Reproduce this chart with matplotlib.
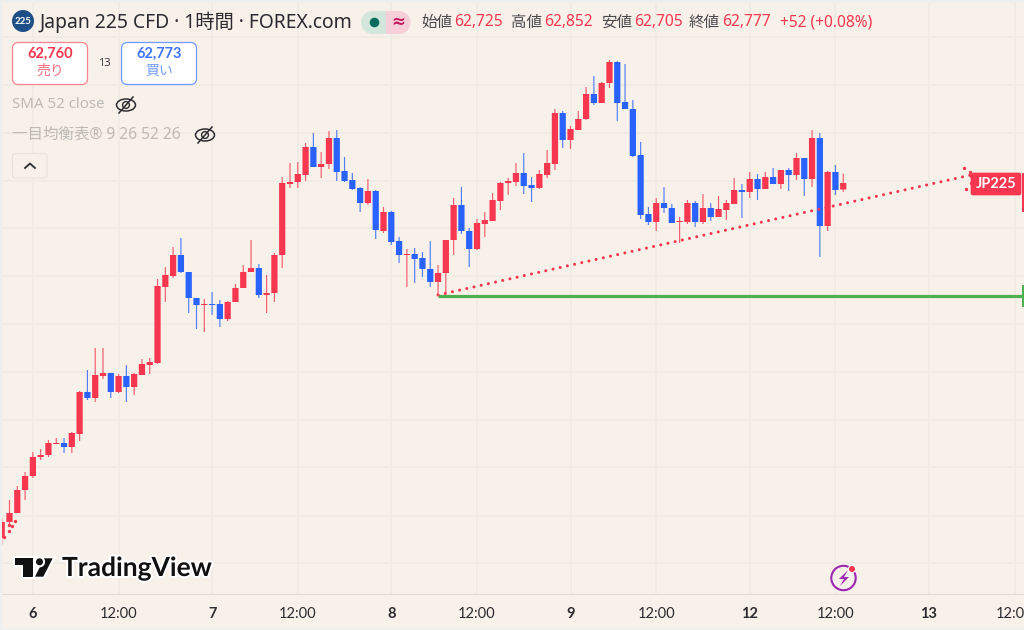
import matplotlib
matplotlib.use("Agg")
import matplotlib.pyplot as plt
import matplotlib.patches as patches
import matplotlib.patheffects as pe
import numpy as np

plt.rcParams['font.family'] = ['Noto Sans', 'Noto Sans CJK JP', 'DejaVu Sans']

opens = [59937, 60065, 60137, 60321, 60433, 60585, 60601, 60689, 60697, 60665,
         60769, 61105, 61057, 61233, 61257, 61105, 61233, 61145, 61241, 61321,
         61337, 61945, 62033, 62201, 62065, 61857, 61801, 61809, 61809, 61689,
         61825, 61937, 62065, 62097, 61881, 61897, 62201, 62769, 62785, 62841,
         63065, 62905, 62929, 63137, 62873, 62801, 62737, 62617, 62713, 62393,
         62545, 62313, 62201, 62209, 62177, 62089, 61985, 62057, 62321, 62601,
         62393, 62249, 62449, 62473, 62633, 62777, 62785, 62857, 62761, 62737,
         62841, 62929, 63337, 63121, 63201, 63289, 63489, 63417, 63577, 63745,
         63425, 63369, 63001, 62529, 62465, 62617, 62577, 62465, 62465, 62617,
         62465, 62577, 62505, 62561, 62609, 62721, 62705, 62809, 62729, 62825,
         62769, 62881, 62841, 62977, 62809, 63137, 62433, 62865, 62725]
highs = [60097, 60241, 60353, 60465, 60625, 60649, 60721, 60737, 60737, 60785,
         61113, 61281, 61457, 61457, 61257, 61249, 61321, 61257, 61369, 61377,
         62009, 62105, 62265, 62337, 62065, 61857, 61849, 61905, 61841, 61833,
         61969, 62121, 62321, 62129, 62041, 62217, 62825, 62937, 62945, 63097,
         63177, 63025, 63193, 63201, 62985, 62857, 62745, 62809, 62721, 62585,
         62553, 62345, 62249, 62257, 62225, 62313, 62121, 62321, 62657, 62745,
         62417, 62489, 62545, 62697, 62785, 62817, 62937, 63017, 62825, 62881,
         63041, 63369, 63353, 63233, 63353, 63545, 63633, 63585, 63761, 63753,
         63729, 63441, 63105, 62585, 62657, 62745, 62609, 62505, 62641, 62633,
         62689, 62617, 62673, 62641, 62817, 62769, 62865, 62849, 62865, 62897,
         62881, 62897, 63017, 62977, 63201, 63177, 62873, 62921, 62852]
lows = [59881, 60025, 60137, 60241, 60417, 60561, 60585, 60689, 60617, 60617,
        60713, 61041, 61025, 61209, 61057, 61097, 61025, 61081, 61241, 61249,
        61329, 61825, 62017, 62057, 61737, 61609, 61585, 61721, 61625, 61673,
        61825, 61937, 62065, 61857, 61737, 61825, 62097, 62737, 62737, 62793,
        62905, 62817, 62889, 62793, 62785, 62721, 62545, 62601, 62329, 62377,
        62281, 62137, 61945, 61977, 62025, 61945, 61881, 61881, 62201, 62369,
        62105, 62241, 62345, 62473, 62561, 62681, 62753, 62689, 62625, 62729,
        62817, 62881, 63057, 63049, 63201, 63281, 63401, 63417, 63537, 63273,
        63369, 62985, 62489, 62441, 62393, 62537, 62457, 62297, 62449, 62425,
        62449, 62473, 62505, 62481, 62609, 62497, 62657, 62641, 62729, 62769,
        62729, 62713, 62801, 62673, 62745, 62185, 62393, 62681, 62705]
closes = [60065, 60137, 60321, 60433, 60585, 60601, 60697, 60697, 60665, 60777,
          61105, 61057, 61241, 61257, 61105, 61233, 61145, 61249, 61329, 61345,
          61953, 62041, 62201, 62065, 61857, 61801, 61809, 61801, 61689, 61825,
          61937, 62065, 62097, 61881, 61897, 62201, 62777, 62785, 62849, 63065,
          62905, 62929, 63137, 62865, 62793, 62729, 62617, 62713, 62401, 62545,
          62305, 62201, 62209, 62169, 62089, 61985, 62057, 62321, 62601, 62393,
          62249, 62457, 62481, 62641, 62777, 62793, 62857, 62753, 62737, 62849,
          62937, 63337, 63121, 63209, 63289, 63489, 63417, 63577, 63745, 63417,
          63369, 62993, 62521, 62465, 62617, 62577, 62457, 62473, 62617, 62465,
          62577, 62505, 62569, 62617, 62721, 62705, 62809, 62729, 62825, 62769,
          62881, 62841, 62977, 62809, 63137, 62433, 62865, 62721, 62777]

tick_pos = [4, 15, 27, 38, 50, 61, 73, 84, 96, 107, 119, 130]
tick_labels = ["6", "12:00", "7", "12:00", "8", "12:00", "9", "12:00", "12", "12:00", "13", "12:00"]
grid_prices = [63945, 63561, 63177, 62793, 62417, 62033, 61649, 61265, 60881, 60505, 60113, 59737]

# drawings on the chart
support_x = [56.0, 130.9]
support_y = [61873, 61873]
trend_x = [56.0, 124.4]
trend_y = [61881, 62841]
tail_x = [0.3, 0.9, 1.0, 1.3, 1.7]
tail_y = [59945, 60041, 59993, 60033, 60073]

BG = "#f8f1ea"
GRID = "#f0eae4"
RED = "#f7374f"
BLUE = "#2962ff"
GREEN = "#4caf50"
BOLD_FONT = "Lato"

fig = plt.figure(figsize=(10.24, 6.3), dpi=100, facecolor=BG)
ax = fig.add_axes([0, 36 / 630, 1, 591 / 630])
ax.set_facecolor(BG)
ax.set_xlim(-0.218, 131.2)
ax.set_ylim(59489, 64217)
for s in ax.spines.values():
    s.set_visible(False)
ax.spines["bottom"].set_visible(True)
ax.spines["bottom"].set_color("#e2dcd5")

ax.set_xticks(tick_pos)
ax.set_xticklabels(tick_labels, fontfamily=BOLD_FONT, fontsize=10.5, color="#2c2c30")
for lab, txt in zip(ax.get_xticklabels(), tick_labels):
    if ":" not in txt:
        lab.set_fontweight("bold")
ax.tick_params(axis="x", length=0, pad=9.5)
ax.set_yticks([])
for p in tick_pos:
    ax.axvline(p, color=GRID, lw=1.1, zorder=0)
for g in grid_prices:
    ax.axhline(g, color=GRID, lw=1.1, zorder=0)

xs = np.arange(len(opens))
o = np.array(opens)
h = np.array(highs)
l = np.array(lows)
c = np.array(closes)
cols = [RED if cc >= oo else BLUE for oo, cc in zip(o, c)]

wicks = ax.vlines(xs, l, h, colors=cols, lw=0.85, alpha=0.8, zorder=2)
wicks.set_snap(False)
bodies = ax.bar(xs, np.maximum(np.abs(c - o), 8), bottom=np.minimum(o, c), width=0.8,
                color=cols, lw=0, zorder=3)
for b in bodies:
    b.set_snap(False)

ax.plot(support_x, support_y, color=GREEN, lw=2.3, solid_capstyle="butt", zorder=4)
ax.plot(trend_x, trend_y, color=RED, lw=2.2, ls=(0, (0.01, 2.4)), dash_capstyle="round", zorder=5)
ax.scatter(tail_x, tail_y, s=6, color=RED, lw=0, zorder=5)

# interface layer, laid out in pixels
ui = fig.add_axes([0, 0, 1, 1], facecolor="none")
ui.set_xlim(0, 1024)
ui.set_ylim(630, 0)
ui.axis("off")


def box(x0, y0, x1, y1, fc, ec, r=6, lw=0.9, z=6):
    p = patches.FancyBboxPatch((x0 + r, y0 + r), x1 - x0 - 2 * r, y1 - y0 - 2 * r,
                               boxstyle=f"round,pad={r},rounding_size={r}",
                               fc=fc, ec=ec, lw=lw, zorder=z)
    ui.add_patch(p)


def eye_off(cx, cy):
    ui.add_patch(patches.Ellipse((cx, cy), 19, 12, fc="none", ec="#2b2b2f", lw=1.1, zorder=7))
    ui.add_patch(patches.Circle((cx, cy), 3.4, fc="none", ec="#2b2b2f", lw=1.0, zorder=7))
    ui.plot([cx - 7, cx + 7], [cy + 8, cy - 8], color="#2b2b2f", lw=1.1, zorder=7)


# window edges
ui.add_patch(patches.Rectangle((0, 0), 1024, 3, fc="#eef0f0", lw=0, zorder=1))
ui.add_patch(patches.Rectangle((0, 0), 1.5, 630, fc="#eef0f0", lw=0, zorder=1))
ui.add_patch(patches.Rectangle((0, 628), 1024, 2, fc="#eef0f0", lw=0, zorder=1))

# header
ui.add_patch(patches.Circle((23, 21), 11, fc="#1d4f86", lw=0, zorder=6))
ui.text(23, 21.5, "225", color="white", fontsize=7, fontweight="bold", fontfamily=BOLD_FONT,
        ha="center", va="center", zorder=7)
ui.text(39.5, 22, "Japan 225 CFD · 1時間 · FOREX.com", color="#2a2a30", fontsize=13.9,
        ha="left", va="center", zorder=7)

ui.add_patch(patches.Rectangle((372.5, 11), 13.5, 23, fc="#d2e6dc", lw=0, zorder=6))
ui.add_patch(patches.Circle((372.5, 22.5), 11.5, fc="#d2e6dc", lw=0, zorder=6))
ui.add_patch(patches.Rectangle((386, 11), 13, 23, fc="#f6cfd8", lw=0, zorder=6))
ui.add_patch(patches.Circle((399, 22.5), 11.5, fc="#f6cfd8", lw=0, zorder=6))
ui.add_patch(patches.Circle((374.5, 22.5), 4.8, fc="#086c5c", lw=0, zorder=7))
ui.text(398, 22, "≈", color="#c2185b", fontsize=12, fontweight="bold", fontfamily="DejaVu Sans",
        ha="center", va="center", zorder=7)

ohlc_names = ["始値", "高値", "安値", "終値"]
ohlc_text = ["62,725", "62,852", "62,705", "62,777"]
name_px = [421, 511, 601, 689]
for n, v, x in zip(ohlc_names, ohlc_text, name_px):
    ui.text(x, 22.5, n, color="#4a4a4e", fontsize=11.2, ha="left", va="center", zorder=7)
    ui.text(x + 33.5, 22.5, v, color=RED, fontsize=11.2, ha="left", va="center", zorder=7)
ui.text(780, 22.5, "+52 (+0.08%)", color=RED, fontsize=11.2, ha="left", va="center", zorder=7)

# sell and buy buttons
box(12.5, 42.5, 87.5, 84.5, "white", "#f9838f")
box(121.5, 42.5, 196.5, 84.5, "white", "#6e9bff")
ui.text(50, 54, "62,760", color=RED, fontsize=10.5, fontweight="bold", fontfamily=BOLD_FONT, ha="center", va="center", zorder=7)
ui.text(50, 71, "売り", color="#f8707f", fontsize=10, ha="center", va="center", zorder=7)
ui.text(104, 63, "13", color="#3a3a3e", fontsize=8, ha="center", va="center", zorder=7)
ui.text(159, 54, "62,773", color="#3f74ff", fontsize=10.5, fontweight="bold", fontfamily=BOLD_FONT, ha="center", va="center", zorder=7)
ui.text(159, 71, "買い", color="#6e9bff", fontsize=10, ha="center", va="center", zorder=7)

# indicators
ui.text(12, 105, "SMA 52 close", color="#bdbab5", fontsize=10.8, ha="left", va="center", zorder=7)
eye_off(126, 105)
ui.text(12, 135, "一目均衡表® 9 26 52 26", color="#bdbab5", fontsize=11.2, ha="left", va="center", zorder=7)
eye_off(205, 135)
box(12.5, 153.5, 47, 178, BG, "#e9e3dc", r=3)
ui.plot([25, 30, 35], [168, 163.5, 168], color="#2a2a2e", lw=1.3, zorder=7)

# trend line arrow head and its label
box(971, 173, 1021, 195, RED, RED, r=2, lw=0.5)
ui.scatter([964, 970, 971, 971, 966], [168, 172, 176, 183, 189], s=6, color=RED, lw=0, zorder=7)
ui.text(996, 184, "JP225", color="white", fontsize=10.5, fontweight="bold", fontfamily=BOLD_FONT,
        ha="center", va="center", zorder=7)
ui.add_patch(patches.Rectangle((1021.5, 173), 3, 39, fc=RED, lw=0, zorder=6))
ui.add_patch(patches.Rectangle((1021.5, 285), 3, 22, fc=GREEN, lw=0, zorder=6))

# logo
halo = [pe.withStroke(linewidth=3, foreground="white")]
logo_t = patches.Polygon([(15.3, 558.3), (33.3, 558.3), (33.3, 576.7), (22.7, 576.7), (22.7, 565), (15.3, 565)],
                         fc="#111111", ec="none", zorder=7)
logo_s = patches.Polygon([(52.7, 558.3), (43.3, 576.7), (35, 576.7), (44.3, 558.3)], fc="#111111", ec="none", zorder=7)
logo_d = patches.Circle((39.5, 561.8), 3.5, fc="#111111", ec="none", zorder=7)
for part in (logo_t, logo_s, logo_d):
    part.set_path_effects([pe.withStroke(linewidth=3, foreground="white")])
    ui.add_patch(part)
ui.text(62, 568, "TradingView", color="#111111", fontsize=19, fontweight="bold", fontfamily=BOLD_FONT,
        ha="left", va="center", zorder=8, path_effects=halo)

# bolt badge
ui.add_patch(patches.Circle((843.5, 578), 12.2, fc=BG, ec="#9c27b0", lw=1.5, zorder=6))
ui.add_patch(patches.Polygon([(848, 570), (839, 579), (844, 579), (840, 586), (849, 577), (844, 577)],
                             fc="#9c27b0", lw=0, zorder=7))
ui.add_patch(patches.Circle((852, 569), 3.6, fc=RED, ec="white", lw=0.8, zorder=8))

fig.savefig("out.png", dpi=100, facecolor=BG)
